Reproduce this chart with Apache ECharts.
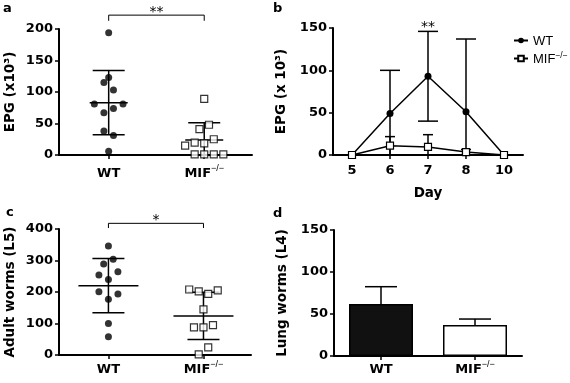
<!DOCTYPE html>
<html>
<head>
<meta charset="utf-8">
<script src="https://cdn.jsdelivr.net/npm/echarts@6/dist/echarts.min.js"></script>
<style>
html, body { margin: 0; padding: 0; background: #fff; }
#main { width: 570px; height: 383px; }
</style>
</head>
<body>
<div id="main"></div>
<script>
// groups
var groups = ['WT', 'MIF'];

// a. EPG (x10^3) per mouse, jitter = horizontal spread of the dots
var epgWT = [194, 123, 115, 103, 81, 81, 74, 67, 38, 31, 6];
var epgWTJitter = [0, 0, -0.05, 0.05, -0.15, 0.15, 0.05, -0.05, -0.05, 0.05, 0];
var epgMIF = [89, 48, 41, 25, 19.6, 18.6, 15, 1, 1, 1, 1];
var epgMIFJitter = [0, 0.05, -0.05, 0.1, -0.1, 0, -0.2, -0.1, 0, 0.1, 0.2];
var epgMean = [83, 24];
var epgSd = [51, 27];

// b. EPG by day
var days = ['5', '6', '7', '8', '10'];
var dayWTMean = [0, 49, 93, 51, 0];
var dayWTSd = [0, 51, 53, 86, 0];
var dayMIFMean = [0, 11, 9.5, 3.5, 0];
var dayMIFSd = [0, 10.7, 14.5, 3, 0];

// c. adult worms (L5)
var adultWT = [346, 304, 289, 264, 254, 240, 201, 194, 177, 100, 58];
var adultWTJitter = [0, 0.05, -0.05, 0.1, -0.1, 0, -0.1, 0.1, 0, 0, 0];
var adultMIF = [208, 202, 194, 205, 145, 88, 88, 95, 24, 2];
var adultMIFJitter = [-0.15, -0.05, 0.05, 0.15, 0, -0.1, 0, 0.1, 0.05, -0.05];
var adultMean = [220, 124];
var adultSd = [86, 75];

// d. lung worms (L4)
var lungMean = [62, 37];
var lungSem = [20.5, 7];

// significance marks: [x1, x2, bracket y, tick end y]
var sigA = [[1, 2, 222, 213]], sigALabel = ['**'];
var sigB = [[2, 2, 147, 147]], sigBLabel = ['**'];
var sigC = [[1, 2, 418, 403]], sigCLabel = ['*'];

var myChart = echarts.init(document.getElementById('main'));

var black = '#000';
var fontB = 'DejaVu Sans';
var rich = {
    n: { fontFamily: fontB, fontWeight: 'bold', fontSize: 13, color: black, padding: [3, 0, 0, 0] },
    s: { fontFamily: 'Liberation Sans', fontSize: 9, color: black, verticalAlign: 'top' }
};
function groupLabel(g) {
    return g === 'WT' || g === 1 ? '{n|WT}' : '{n|MIF}{s|−/−}';
}

function seg(x1, y1, x2, y2, w) {
    return { type: 'line', shape: { x1: x1, y1: y1, x2: x2, y2: y2 }, style: { stroke: black, lineWidth: w || 1.5 } };
}
// mean line + SD whiskers
function meanSd(meanHalf, capHalf) {
    return function (params, api) {
        var x = api.value(0), m = api.value(1), s = api.value(2);
        var c = api.coord([x, m]);
        var hi = api.coord([x, m + s]);
        var lo = api.coord([x, Math.max(m - s, 0)]);
        var kids = [
            seg(c[0], hi[1], c[0], lo[1]),
            seg(c[0] - meanHalf, c[1], c[0] + meanHalf, c[1]),
            seg(c[0] - capHalf, hi[1], c[0] + capHalf, hi[1])
        ];
        if (m - s > 0) kids.push(seg(c[0] - capHalf, lo[1], c[0] + capHalf, lo[1]));
        return { type: 'group', children: kids };
    };
}
function errBar(capHalf, upOnly) {
    return function (params, api) {
        var x = api.value(0), m = api.value(1), s = api.value(2);
        if (!s) return null;
        var hi = api.coord([x, m + s]);
        var lo = api.coord([x, upOnly ? m : Math.max(m - s, 0)]);
        var kids = [
            seg(hi[0], hi[1], hi[0], lo[1]),
            seg(hi[0] - capHalf, hi[1], hi[0] + capHalf, hi[1])
        ];
        if (!upOnly && m - s > 0) kids.push(seg(lo[0] - capHalf, lo[1], lo[0] + capHalf, lo[1]));
        return { type: 'group', children: kids };
    };
}
function bracket(labels) {
    return function (params, api) {
        var x1 = api.value(0), x2 = api.value(1), yb = api.value(2), yt = api.value(3);
        var p1 = api.coord([x1, yb]), p2 = api.coord([x2, yb]), t = api.coord([x1, yt]);
        var kids = [];
        if (x1 !== x2) {
            kids.push(seg(p1[0], p1[1], p2[0], p2[1], 1));
            kids.push(seg(p1[0], p1[1], p1[0], t[1], 1));
            kids.push(seg(p2[0], p2[1], p2[0], t[1], 1));
        }
        kids.push({
            type: 'text', x: (p1[0] + p2[0]) / 2, y: p1[1] - 3,
            style: { text: labels[params.dataIndex], align: 'center', verticalAlign: 'middle',
                     font: '14px "DejaVu Sans"', fill: black }
        });
        return { type: 'group', children: kids };
    };
}

var axisLine = { show: true, onZero: false, lineStyle: { color: black, width: 2 } };
var axisTick = { show: true, length: 4, lineStyle: { color: black, width: 1.5 } };
var tickFont = { color: black, fontFamily: fontB, fontWeight: 'bold', fontSize: 13 };
var nameFont = { color: black, fontFamily: fontB, fontWeight: 'bold', fontSize: 13.5 };

function yAx(grid, max, step, name, gap) {
    return {
        type: 'value', gridIndex: grid, min: 0, max: max, interval: step,
        name: name, nameLocation: 'middle', nameRotate: 90, nameGap: gap, nameTextStyle: nameFont,
        axisLine: axisLine, axisTick: axisTick, splitLine: { show: false },
        axisLabel: Object.assign({ margin: 6 }, tickFont)
    };
}
function groupAx(grid, margin) {
    return {
        type: 'value', gridIndex: grid, min: 0.48, max: 2.5,
        axisLine: axisLine, splitLine: { show: false },
        axisTick: Object.assign({ customValues: [1, 2] }, axisTick),
        axisLabel: { customValues: [1, 2], margin: margin, formatter: groupLabel, rich: rich }
    };
}
function points(vals, jit, g) {
    return vals.map(function (v, i) { return [g + jit[i], v]; });
}
function stats(mean, sd) {
    return mean.map(function (m, i) { return [i + 1, m, sd[i]]; });
}
function idxStats(mean, sd) {
    return mean.map(function (m, i) { return [i, m, sd[i]]; });
}

var dotStyle = { color: black };
var boxStyle = { color: '#fff', borderColor: black, borderWidth: 1.2 };

var option = {
    animation: false,
    backgroundColor: '#fff',
    title: [
        { text: 'a', left: 3, top: 2 },
        { text: 'b', left: 273, top: 2 },
        { text: 'c', left: 6, top: 206 },
        { text: 'd', left: 273, top: 207 }
    ].map(function (t) {
        t.padding = 0;
        t.textStyle = { color: black, fontFamily: fontB, fontWeight: 'bold', fontSize: 13 };
        return t;
    }),
    legend: {
        data: ['WT', 'MIF'], orient: 'vertical', left: 508, top: 30,
        itemWidth: 14, itemHeight: 7, itemGap: 3, selectedMode: false,
        formatter: function (name) {
            return name === 'WT' ? '{n|WT}' : '{n|MIF}{s|−/−}';
        },
        textStyle: {
            rich: {
                n: { fontFamily: 'Liberation Sans', fontSize: 13, color: black, padding: [2, 0, 0, 0] },
                s: { fontFamily: 'Liberation Sans', fontSize: 8.5, color: black, verticalAlign: 'top' }
            }
        }
    },
    grid: [
        { left: 59, top: 29, width: 193, height: 126 },
        { left: 333, top: 28, width: 190, height: 127 },
        { left: 59, top: 229, width: 192, height: 126 },
        { left: 334, top: 230, width: 188, height: 126 }
    ],
    xAxis: [
        groupAx(0, 9),
        {
            type: 'category', gridIndex: 1, data: days,
            name: 'Day', nameLocation: 'middle', nameGap: 31, nameTextStyle: nameFont,
            axisLine: axisLine, axisTick: Object.assign({ alignWithLabel: true }, axisTick),
            axisLabel: Object.assign({ margin: 9, interval: 0 }, tickFont)
        },
        groupAx(2, 5),
        {
            type: 'category', gridIndex: 3, data: groups,
            axisLine: axisLine, axisTick: Object.assign({ alignWithLabel: true }, axisTick),
            axisLabel: { margin: 4, interval: 0, formatter: groupLabel, rich: rich }
        }
    ],
    yAxis: [
        yAx(0, 200, 50, 'EPG (x10³)', 42),
        yAx(1, 150, 50, 'EPG (x 10³)', 45),
        yAx(2, 400, 100, 'Adult worms (L5)', 42),
        yAx(3, 150, 50, 'Lung worms (L4)', 45)
    ],
    series: [
        // a
        { type: 'custom', name: 'epgStats', xAxisIndex: 0, yAxisIndex: 0, z: 2,
          renderItem: meanSd(19, 16), data: stats(epgMean, epgSd) },
        { type: 'scatter', name: 'epgWT', xAxisIndex: 0, yAxisIndex: 0, z: 3,
          symbol: 'circle', symbolSize: 7, itemStyle: dotStyle, data: points(epgWT, epgWTJitter, 1) },
        { type: 'scatter', name: 'epgMIF', xAxisIndex: 0, yAxisIndex: 0, z: 3,
          symbol: 'rect', symbolSize: 7, itemStyle: boxStyle, data: points(epgMIF, epgMIFJitter, 2) },
        { type: 'custom', name: 'sigA', xAxisIndex: 0, yAxisIndex: 0, z: 2,
          renderItem: bracket(sigALabel), data: sigA },
        // b
        { type: 'custom', name: 'errWT', xAxisIndex: 1, yAxisIndex: 1, z: 2,
          renderItem: errBar(10, false), data: idxStats(dayWTMean, dayWTSd) },
        { type: 'custom', name: 'errMIF', xAxisIndex: 1, yAxisIndex: 1, z: 2,
          renderItem: errBar(5, false), data: idxStats(dayMIFMean, dayMIFSd) },
        { type: 'line', name: 'WT', xAxisIndex: 1, yAxisIndex: 1, z: 3,
          symbol: 'circle', symbolSize: 7, itemStyle: dotStyle,
          lineStyle: { color: black, width: 1.5 }, data: dayWTMean },
        { type: 'line', name: 'MIF', xAxisIndex: 1, yAxisIndex: 1, z: 4,
          symbol: 'rect', symbolSize: 7, itemStyle: boxStyle,
          lineStyle: { color: black, width: 1.5 }, data: dayMIFMean },
        { type: 'custom', name: 'sigB', xAxisIndex: 1, yAxisIndex: 1, z: 2,
          renderItem: bracket(sigBLabel), data: sigB },
        // c
        { type: 'custom', name: 'adultStats', xAxisIndex: 2, yAxisIndex: 2, z: 2,
          renderItem: meanSd(30, 16), data: stats(adultMean, adultSd) },
        { type: 'scatter', name: 'adultWT', xAxisIndex: 2, yAxisIndex: 2, z: 3,
          symbol: 'circle', symbolSize: 7, itemStyle: dotStyle, data: points(adultWT, adultWTJitter, 1) },
        { type: 'scatter', name: 'adultMIF', xAxisIndex: 2, yAxisIndex: 2, z: 3,
          symbol: 'rect', symbolSize: 7, itemStyle: boxStyle, data: points(adultMIF, adultMIFJitter, 2) },
        { type: 'custom', name: 'sigC', xAxisIndex: 2, yAxisIndex: 2, z: 2,
          renderItem: bracket(sigCLabel), data: sigC },
        // d
        { type: 'custom', name: 'lungErr', xAxisIndex: 3, yAxisIndex: 3, z: 1,
          renderItem: errBar(16, true), data: idxStats(lungMean, lungSem) },
        { type: 'bar', name: 'lung', xAxisIndex: 3, yAxisIndex: 3, z: 2, barWidth: 64,
          itemStyle: { borderColor: black, borderWidth: 1.5 },
          data: lungMean.map(function (v, i) {
              return { value: v, itemStyle: { color: i === 0 ? '#111' : '#fff' } };
          }) }
    ]
};

myChart.setOption(option);
window.addEventListener('resize', function () {
    myChart.resize();
});
</script>
</body>
</html>
